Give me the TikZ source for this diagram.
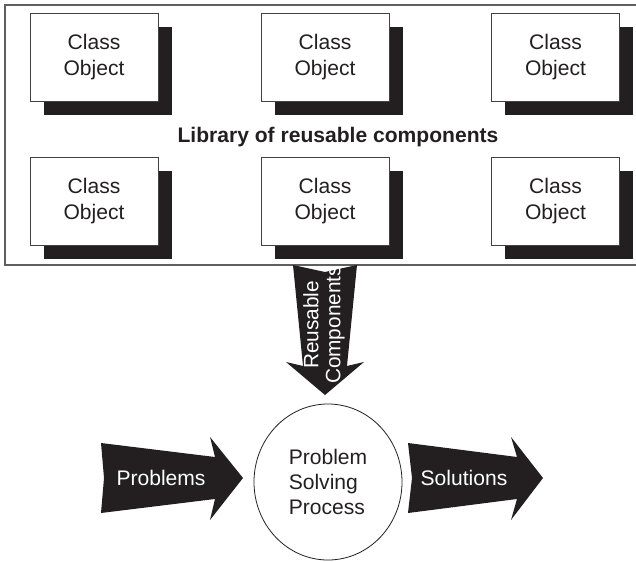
\documentclass[tikz,border=0pt]{standalone}
\usepackage{fontspec}
\setmainfont{Liberation Sans}
\usetikzlibrary{shadows,shapes.geometric}
\definecolor{ink}{RGB}{35,31,32}
\definecolor{framegray}{RGB}{95,95,95}
\begin{document}
\begin{tikzpicture}[x=0.75pt,y=-0.75pt,
  txt/.style={font=\fontsize{15.8}{19.5}\selectfont, text=ink},
  classbox/.style={txt, draw=ink!85, line width=0.6pt, fill=white,
    minimum width=96pt, minimum height=66pt, inner sep=0pt, align=center,
    general shadow={fill=ink, shadow xshift=10.2pt, shadow yshift=-10.5pt}},
  bigarrow/.style={fill=ink, draw=none},
  arrowtxt/.style={txt, text=white, inner sep=0pt, align=center}]
\useasboundingbox (0,0) rectangle (636,561);

% library frame (open to the right)
\draw[framegray, line width=0.8pt] (645,5) -- (5,5) -- (5,265) -- (645,265);

% class objects
\node[classbox] (c11) at (94,57)    {Class\\Object};
\node[classbox] (c12) at (325,57)   {Class\\Object};
\node[classbox] (c13) at (555.5,57) {Class\\Object};
\node[classbox] (c21) at (94,201)   {Class\\Object};
\node[classbox] (c22) at (325,201)  {Class\\Object};
\node[classbox] (c23) at (555.5,201){Class\\Object};

\node[txt, font=\fontsize{15.8}{19.5}\selectfont\bfseries] (lib) at (338,137) {Library of reusable components};

% reusable components arrow
\fill[bigarrow] (293,265) -- (325,272) -- (357,265) -- (347,366) -- (364,362)
  -- (325,395) -- (286,362) -- (303,366) -- cycle;
\node[arrowtxt, rotate=90, font=\fontsize{15.6}{16.5}\selectfont] (reuse) at (324,325) {Reusable\\Components};

% problem solving process
\node[txt, ellipse, draw=ink, line width=0.6pt, minimum width=111pt, minimum height=117pt,
  inner sep=0pt, align=left, font=\fontsize{15.8}{18.75}\selectfont] (proc) at (328,482)
  {Problem\\Solving\\Process};

% problems arrow
\fill[bigarrow] (101,443) -- (215,457) -- (210,437) -- (243,478) -- (210,520)
  -- (215,499) -- (101,513) -- (104,478) -- cycle;
\node[arrowtxt] (prob) at (161,478) {Problems};

% solutions arrow
\fill[bigarrow] (408,443) -- (517,457) -- (511,437) -- (543,478) -- (511,520)
  -- (517,499) -- (408,513) -- (412,478) -- cycle;
\node[arrowtxt] (sol) at (464,478) {Solutions};
\end{tikzpicture}
\end{document}
